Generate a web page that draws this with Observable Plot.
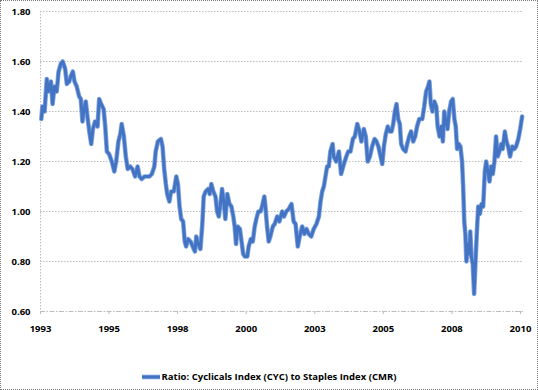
<!DOCTYPE html>
<html>
<head>
<meta charset="utf-8">
<script src="https://cdn.jsdelivr.net/npm/d3@7"></script>
<script src="https://cdn.jsdelivr.net/npm/@observablehq/plot@0.6"></script>
<style>
  html, body { margin: 0; padding: 0; background: #fff; }
  #wrap { position: relative; width: 538px; height: 390px; overflow: hidden; font-family: "Open Sans", sans-serif; }
  #frame { position: absolute; left: 0; top: 0; width: 538px; height: 390px; box-sizing: border-box; border: 1px dotted #7a7a7a; pointer-events: none; }
  #legend { position: absolute; left: 0; width: 538px; top: 370px; display: flex; justify-content: center; align-items: center; font-size: 9.5px; font-weight: 700; color: #000; }
  #legend svg { margin-right: 2px; }
</style>
</head>
<body>
<div id="wrap">
  <div id="chart"></div>
  <div id="legend"></div>
  <div id="frame"></div>
</div>
<script>
// Decimal years (time) and ratio values
const years = [
  1993.03, 1993.07, 1993.15, 1993.23, 1993.29, 1993.38, 1993.44, 1993.51, 1993.59, 1993.66,
  1993.74, 1993.81, 1993.90, 1993.96, 1994.05, 1994.10, 1994.18, 1994.24, 1994.32, 1994.41,
  1994.47, 1994.53, 1994.59, 1994.65, 1994.71, 1994.78, 1994.85, 1994.91, 1994.99, 1995.08,
  1995.14, 1995.21, 1995.30, 1995.36, 1995.42, 1995.50, 1995.60, 1995.69, 1995.76, 1995.84,
  1995.91, 1995.96, 1996.04, 1996.11, 1996.18, 1996.27, 1996.35, 1996.45, 1996.54, 1996.61,
  1996.69, 1996.79, 1996.88, 1996.97, 1997.06, 1997.15, 1997.20, 1997.28, 1997.39, 1997.45,
  1997.51, 1997.57, 1997.62, 1997.70, 1997.76, 1997.86, 1997.95, 1998.01, 1998.07, 1998.13,
  1998.20, 1998.26, 1998.31, 1998.38, 1998.47, 1998.55, 1998.63, 1998.68, 1998.75, 1998.83,
  1998.90, 1998.95, 1999.02, 1999.11, 1999.17, 1999.23, 1999.30, 1999.38, 1999.44, 1999.50,
  1999.56, 1999.62, 1999.68, 1999.74, 1999.81, 1999.89, 1999.96, 2000.03, 2000.08, 2000.13,
  2000.19, 2000.27, 2000.33, 2000.39, 2000.45, 2000.54, 2000.59, 2000.67, 2000.74, 2000.81,
  2000.87, 2000.94, 2001.02, 2001.08, 2001.16, 2001.20, 2001.26, 2001.32, 2001.38, 2001.47,
  2001.54, 2001.63, 2001.71, 2001.81, 2001.88, 2001.96, 2002.05, 2002.15, 2002.23, 2002.30,
  2002.38, 2002.45, 2002.54, 2002.62, 2002.70, 2002.78, 2002.87, 2002.96, 2003.06, 2003.15,
  2003.21, 2003.27, 2003.33, 2003.39, 2003.45, 2003.51, 2003.57, 2003.65, 2003.69, 2003.78,
  2003.88, 2003.96, 2004.06, 2004.15, 2004.22, 2004.30, 2004.39, 2004.46, 2004.55, 2004.63,
  2004.70, 2004.79, 2004.86, 2004.93, 2005.01, 2005.09, 2005.18, 2005.25, 2005.32, 2005.40,
  2005.46, 2005.52, 2005.59, 2005.66, 2005.73, 2005.80, 2005.86, 2005.92, 2005.98, 2006.04,
  2006.10, 2006.15, 2006.22, 2006.31, 2006.37, 2006.44, 2006.51, 2006.59, 2006.66, 2006.73,
  2006.81, 2006.92, 2006.99, 2007.06, 2007.13, 2007.18, 2007.23, 2007.29, 2007.36, 2007.43,
  2007.48, 2007.55, 2007.61, 2007.67, 2007.72, 2007.78, 2007.84, 2007.90, 2007.97, 2008.03,
  2008.09, 2008.14, 2008.19, 2008.25, 2008.31, 2008.37, 2008.41, 2008.45, 2008.49, 2008.53,
  2008.58, 2008.62, 2008.67, 2008.71, 2008.76, 2008.81, 2008.86, 2008.91, 2008.96, 2009.02,
  2009.08, 2009.14, 2009.20, 2009.25, 2009.31, 2009.37, 2009.43, 2009.49, 2009.55, 2009.61,
  2009.67, 2009.73, 2009.80, 2009.85, 2009.93, 2009.99, 2010.05, 2010.12, 2010.20, 2010.27,
  2010.34, 2010.42, 2010.49, 2010.56
];
const ratio = [
  1.37, 1.42, 1.40, 1.53, 1.48, 1.52, 1.43, 1.50, 1.48, 1.56,
  1.59, 1.60, 1.57, 1.51, 1.52, 1.54, 1.56, 1.52, 1.50, 1.46,
  1.45, 1.36, 1.41, 1.44, 1.38, 1.32, 1.27, 1.33, 1.36, 1.34,
  1.45, 1.43, 1.41, 1.34, 1.24, 1.23, 1.20, 1.16, 1.20, 1.28,
  1.31, 1.35, 1.30, 1.22, 1.17, 1.18, 1.17, 1.14, 1.18, 1.14,
  1.13, 1.14, 1.14, 1.14, 1.15, 1.18, 1.24, 1.28, 1.29, 1.26,
  1.17, 1.11, 1.07, 1.04, 1.08, 1.08, 1.14, 1.11, 1.02, 0.97,
  0.96, 0.88, 0.86, 0.89, 0.88, 0.86, 0.84, 0.90, 0.87, 0.85,
  0.95, 1.06, 1.08, 1.09, 1.07, 1.11, 1.08, 1.06, 1.00, 0.98,
  1.03, 1.09, 1.04, 0.97, 1.07, 1.03, 1.02, 0.98, 0.94, 0.87,
  0.94, 0.93, 0.88, 0.83, 0.82, 0.82, 0.86, 0.89, 0.88, 0.94,
  0.97, 1.00, 1.00, 1.02, 1.06, 1.02, 0.94, 0.88, 0.90, 0.94,
  0.95, 0.98, 0.96, 1.00, 0.98, 1.00, 1.01, 1.03, 0.96, 0.95,
  0.86, 0.90, 0.94, 0.91, 0.93, 0.91, 0.90, 0.93, 0.95, 0.98,
  1.04, 1.08, 1.10, 1.14, 1.18, 1.18, 1.24, 1.27, 1.22, 1.20,
  1.24, 1.15, 1.19, 1.22, 1.24, 1.24, 1.29, 1.30, 1.35, 1.32,
  1.28, 1.33, 1.30, 1.20, 1.22, 1.26, 1.29, 1.28, 1.26, 1.22,
  1.19, 1.26, 1.31, 1.34, 1.32, 1.32, 1.35, 1.40, 1.43, 1.37,
  1.35, 1.27, 1.25, 1.24, 1.27, 1.30, 1.32, 1.28, 1.30, 1.34,
  1.37, 1.37, 1.42, 1.48, 1.50, 1.52, 1.43, 1.40, 1.44, 1.42,
  1.34, 1.30, 1.34, 1.28, 1.40, 1.36, 1.33, 1.40, 1.44, 1.45,
  1.37, 1.34, 1.25, 1.27, 1.26, 1.20, 1.10, 0.96, 0.91, 0.80,
  0.87, 0.83, 0.92, 0.82, 0.79, 0.67, 0.80, 0.92, 1.02, 0.99,
  1.03, 1.02, 1.16, 1.20, 1.16, 1.12, 1.18, 1.15, 1.20, 1.30,
  1.22, 1.24, 1.27, 1.25, 1.32, 1.28, 1.26, 1.22, 1.26, 1.25,
  1.26, 1.29, 1.33, 1.38
];
const xTickValues = [1993, 1995.5, 1998, 2000.5, 2003, 2005.5, 2008, 2010.5];
const xTickLabels = ["1993", "1995", "1998", "2000", "2003", "2005", "2008", "2010"];
const yTickValues = [0.6, 0.8, 1.0, 1.2, 1.4, 1.6, 1.8];
const seriesName = "Ratio: Cyclicals Index (CYC) to Staples Index (CMR)";

const data = years.map((t, i) => ({t, v: ratio[i]}));
const lineColor = "#4374c4";

const chart = Plot.plot({
  width: 538,
  height: 340,
  marginLeft: 40,
  marginRight: 15,
  marginTop: 11,
  marginBottom: 29,
  style: {fontFamily: "Open Sans, sans-serif", fontSize: "9.5px", fontWeight: "700", color: "#000", background: "transparent"},
  x: {type: "linear", domain: [1993, 2010.61], label: null},
  y: {domain: [0.6, 1.8], label: null},
  marks: [
    Plot.gridY(yTickValues.filter(d => d > 0.6), {stroke: "#bdbdbd", strokeOpacity: 1, strokeDasharray: "1.5,1.5"}),
    Plot.ruleX([1993], {stroke: "#bdbdbd", strokeDasharray: "1.5,1.5"}),
    Plot.ruleY([0.6], {stroke: "#bdbdbd", strokeDasharray: "5,1.5,1.5,1.5"}),
    Plot.axisY(yTickValues, {label: null, tickSize: 0, tickPadding: 10, tickFormat: d => d.toFixed(2), fill: "#000", fontWeight: 700}),
    Plot.axisX(xTickValues, {label: null, tickSize: 3, tickPadding: 11, stroke: "#bdbdbd", fill: "#000", fontWeight: 700,
      tickFormat: d => xTickLabels[xTickValues.indexOf(d)]}),
    Plot.line(data, {x: "t", y: "v", stroke: "#86a8de", strokeWidth: 4.6, strokeLinejoin: "round"}),
    Plot.line(data, {x: "t", y: "v", stroke: lineColor, strokeWidth: 3, strokeLinejoin: "round"})
  ]
});
document.getElementById("chart").appendChild(chart);

const legend = document.getElementById("legend");
legend.innerHTML = `<svg width="18" height="8"><line x1="0" y1="4" x2="18" y2="4" stroke="#86a8de" stroke-width="4.6"/><line x1="0" y1="4" x2="18" y2="4" stroke="${lineColor}" stroke-width="3"/></svg><span></span>`;
legend.querySelector("span").textContent = seriesName;
</script>
</body>
</html>
